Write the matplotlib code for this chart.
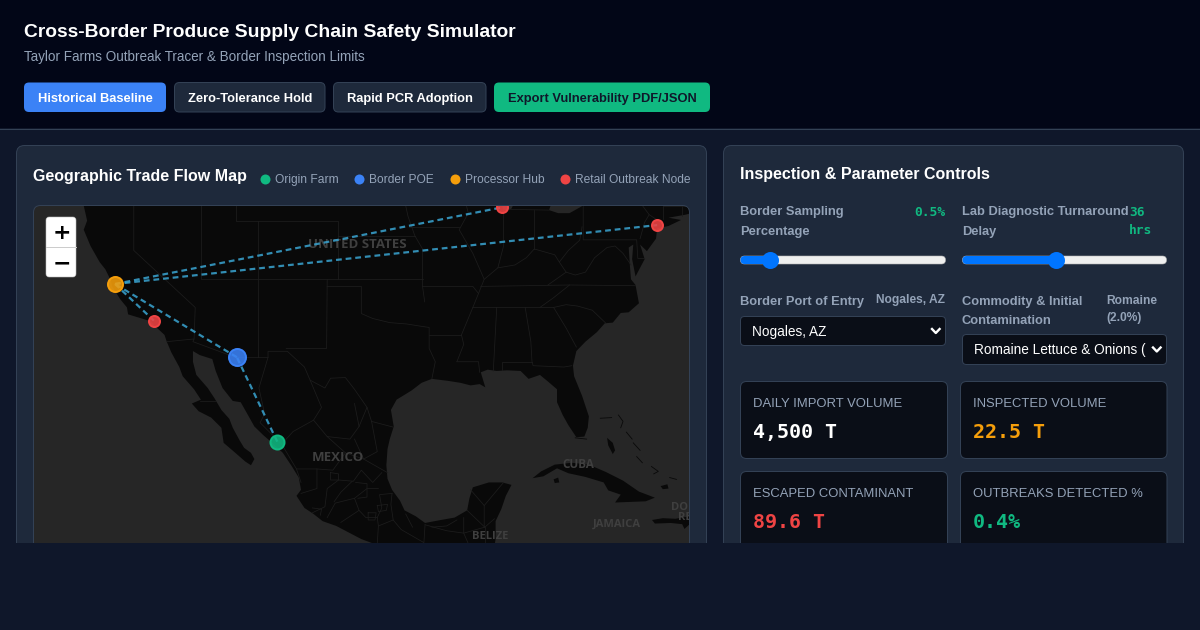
import numpy as np
import matplotlib
matplotlib.use("Agg")
import matplotlib.pyplot as plt
from matplotlib.patches import FancyBboxPatch, Polygon, Rectangle

# ---------- data ----------
node_names = ["Culiacan", "Nogales", "Salinas", "Los Angeles", "Chicago", "New York"]
node_lon = [-107.39, -110.94, -121.65, -118.24, -87.63, -74.0]
node_lat = [24.80, 31.34, 36.67, 34.05, 41.88, 40.71]
node_kind = ["farm", "poe", "hub", "retail", "retail", "retail"]
routes = [(0, 1), (1, 2), (2, 3), (2, 4), (2, 5)]
legend_labels = ["Origin Farm", "Border POE", "Processor Hub", "Retail Outbreak Node"]
sampling_pct = 0.5
sampling_range = (0.0, 4.3)
lab_delay_hrs = 36
lab_range = (6, 72)
metric_labels = ["DAILY IMPORT VOLUME", "INSPECTED VOLUME", "ESCAPED CONTAMINANT", "OUTBREAKS DETECTED %"]
metric_values = ["4,500 T", "22.5 T", "89.6 T", "0.4%"]
button_labels = ["Historical Baseline", "Zero-Tolerance Hold", "Rapid PCR Adoption", "Export Vulnerability PDF/JSON"]

mainland = [(-125,43),(-124.4,42),(-124.1,41),(-124.4,40.4),(-123.8,39.3),(-123,38.2),(-122.5,37.7),(-122,36.9),(-121.9,36.5),
 (-121.2,35.6),(-120.6,35.0),(-120.5,34.5),(-119.3,34.2),(-118.5,34.0),(-118.2,33.7),(-117.3,33.0),(-117.1,32.5),(-116.7,31.7),
 (-116.0,30.6),(-115.7,29.9),(-114.7,28.9),(-114.1,28.1),(-114.9,27.8),(-114.3,27.2),(-113.2,26.7),(-112.3,25.9),(-112.1,24.7),
 (-111.2,24.0),(-110.2,23.2),(-109.7,22.9),(-109.4,23.4),(-109.7,23.9),(-110.3,24.3),(-110.7,24.9),(-111.3,25.9),(-111.6,26.6),(-112.3,27.3),(-112.9,28.2),
 (-113.5,29.0),(-114.5,30.0),(-114.8,31.0),(-114.8,31.8),(-114.2,31.5),(-113.1,31.2),(-112.8,30.3),(-112.2,29.0),(-111.3,28.0),(-110.6,27.9),
 (-109.9,26.8),(-109.4,26.0),(-108.6,25.3),(-107.7,24.6),(-106.9,23.9),(-106.1,22.8),(-105.5,21.9),(-105.3,20.9),(-105.7,20.4),(-105.0,19.4),
 (-104.2,18.9),(-103.4,18.3),(-102.2,17.9),(-101.2,17.4),(-100.0,16.8),(-98.6,16.3),(-97.5,15.9),(-96,15.5),(-94,15),(-90,14.5),(-88.5,15),
 (-88.2,16.8),(-88.2,18.3),(-87.7,19.3),(-87.3,20.4),(-86.8,21.3),(-87.6,21.5),(-88.8,21.5),(-90.2,21.1),(-90.5,20.2),(-90.7,19.2),(-91.8,18.6),
 (-93.0,18.4),(-94.4,18.15),(-95.2,18.7),(-96.2,19.2),(-96.6,20.0),(-97.3,20.9),(-97.7,21.8),(-97.8,22.9),(-97.7,24.2),(-97.5,25.0),(-97.15,26.0),
 (-97.4,27.3),(-96.9,28.1),(-95.6,28.8),(-94.7,29.4),(-93.8,29.7),(-92.4,29.55),(-91.3,29.4),(-90.4,29.2),(-89.6,29.3),(-89.1,29.05),(-89.4,29.9),(-89.5,30.2),(-88.9,30.4),
 (-88.1,30.3),(-87.2,30.35),(-86.0,30.3),(-85.3,29.7),(-84.3,30.0),(-83.6,29.5),(-82.8,28.9),(-82.8,27.9),(-82.3,26.9),(-81.8,26.1),(-81.1,25.15),
 (-80.4,25.2),(-80.1,25.9),(-80.0,26.8),(-80.6,28.4),(-81.3,29.9),(-81.4,30.7),(-81.1,31.8),(-80.3,32.5),(-79.3,33.2),(-78.6,33.85),(-77.9,33.9),(-77.2,34.6),
 (-76.5,34.65),(-75.6,35.3),(-75.9,36.6),(-76.3,37.0),(-76.4,38.0),(-76.5,39.2),(-76.1,39.4),(-76.2,38.4),(-75.9,37.2),(-75.1,38.4),(-75.5,39.4),(-74.9,38.95),
 (-74.1,39.8),(-74.0,40.5),(-73.0,40.65),(-71.9,41.05),(-73.0,41.2),(-71.5,41.4),(-70.5,41.6),(-70,43)]
lake_erie = [(-83.5,41.7),(-82.7,41.5),(-81.7,41.5),(-80.5,42),(-79.5,42.5),(-78.9,42.9),(-80,43),(-82.9,43)]
lake_michigan = [(-87.8,42.6),(-87.55,41.75),(-87.2,41.65),(-86.8,41.8),(-86.3,42.6)]
islands = [
 [(-84.95,21.85),(-84.2,22.4),(-83.0,22.95),(-81.5,23.1),(-80.0,22.95),(-78.5,22.35),(-77.0,21.65),(-75.6,20.75),(-74.2,20.25),(-75.0,19.95),(-77.7,19.85),
  (-77.2,20.5),(-78.3,20.85),(-78.7,21.5),(-80.3,21.95),(-81.8,22.25),(-82.8,22.65),(-84.0,22.0)],
 [(-83.1,21.75),(-82.7,21.9),(-82.6,21.5),(-83.0,21.45)],
 [(-74.45,18.4),(-73.5,18.55),(-72.4,18.5),(-71.8,18.6),(-71.2,18.7),(-70,19.0),(-70,18.2),(-70.8,18.3),(-71.2,18.0),(-71.6,17.65),(-71.8,18.05),(-72.8,18.15),(-74.2,18.1)],
 [(-78.4,25.1),(-77.9,24.7),(-77.7,24.1),(-77.9,23.8),(-78.3,24.5)],
 [(-73.7,21.2),(-73.1,21.35),(-73.0,21.0),(-73.5,20.95)],
]
island_lines = [
 [(-79.0,26.65),(-78.0,26.7)],[(-77.4,26.9),(-77.0,26.4),(-77.2,25.9)],[(-76.7,25.55),(-76.2,25.0)],[(-75.8,23.6),(-75.3,23.1)],
 [(-76.1,24.7),(-75.5,24.1)],[(-74.5,22.8),(-73.9,22.4),(-74.3,22.2)],[(-72.9,21.9),(-72.3,21.75)],[(-81.2,25.1),(-80.2,25.0)],
]
borders = [
 [(-120,43),(-120,39),(-114.6,35),(-114.7,32.7)],[(-114.05,43),(-114.05,37),(-94.62,37)],
 [(-111.05,43),(-111.05,41),(-102.05,41),(-102.05,37)],[(-109.05,41),(-109.05,31.33)],
 [(-117.1,32.5),(-114.7,32.7),(-114.8,32.5),(-111.07,31.33),(-108.2,31.33),(-108.2,31.78),(-106.5,31.78),(-105,30.6),(-104.5,29.6),(-103.2,29),(-102.7,29.75),(-101.4,29.8),(-100.6,28.9),(-99.5,27.5),(-99.1,26.4),(-97.2,25.95)],
 [(-103,37),(-103.05,32),(-106.6,32)],[(-103,36.5),(-100,36.5),(-100,34.56),(-99,34.2),(-97.5,33.9),(-96,33.8),(-94.5,33.6)],
 [(-94.43,35.4),(-94.62,36.5),(-94.62,39.1),(-95.3,40),(-95.9,41.3),(-96.4,43)],[(-102.05,40),(-95.3,40)],[(-95.8,40.6),(-91.4,40.6)],
 [(-94.62,36.5),(-90.2,36.5),(-89.7,36)],[(-94.5,33.6),(-94.04,33.55),(-94.04,32),(-93.5,31),(-93.8,29.7)],[(-94.04,33),(-91.2,33)],[(-91.6,31),(-89.7,31),(-89.6,30.2)],
 [(-91.1,43),(-90.6,41.5),(-91.4,40.4),(-90.2,38.8),(-89.2,37),(-89.7,36),(-90.2,35),(-91.2,33),(-91,32.3),(-91.6,31)],
 [(-88.1,35),(-88.4,30.3)],[(-85.6,35),(-85.1,32.5),(-85,31),(-84.9,30.7),(-82.2,30.6),(-81.5,30.7)],[(-87.6,30.35),(-87.6,31),(-85,31)],
 [(-90.2,35),(-84.3,35),(-83.1,35.7),(-81.7,36.6)],[(-89.5,36.5),(-81.7,36.6),(-75.9,36.55)],[(-84.3,35),(-83.1,35),(-82,35.2),(-81,35.1),(-79.7,34.8),(-78.5,33.85)],
 [(-83.1,35),(-82,33.5),(-81.1,32.1)],[(-89.2,37),(-88,37.8),(-86.5,38),(-85.5,38.5),(-84.8,39.1),(-83,38.7),(-82.6,38.2),(-82,37.5),(-83.6,36.6)],
 [(-87.5,41.7),(-87.5,39.3),(-88,37.8)],[(-84.8,39.1),(-84.8,41.7)],[(-87,41.75),(-83.5,41.7)],[(-80.5,42),(-80.5,39.72),(-75.8,39.72),(-75.7,38.45),(-75.1,38.45)],
 [(-80.6,40.6),(-80.8,39.7),(-81.8,39),(-82.6,38.2)],[(-82,37.5),(-81.2,37.3),(-80.3,37.5),(-79.5,38.5),(-78.4,39.2),(-77.7,39.3),(-77,38.8),(-76.3,38)],
 [(-79.8,43),(-79.8,42.2),(-75.3,42),(-74.7,41.4),(-75.1,40.9),(-75.5,39.8)],[(-74.7,41.4),(-73.9,41)],[(-73.5,43),(-73.5,41.1)],[(-73.5,42),(-71.4,42)],[(-71.8,42),(-71.8,41.3)],
 [(-114.2,28),(-112.8,28)],[(-108.2,31.33),(-109,29),(-108.5,27),(-108.9,26.3),(-107,24.6),(-105.7,22.6),(-105.3,21.5)],[(-104.5,29.6),(-103.5,27.5),(-104.2,26.5),(-106,25.6),(-107,24.6)],
 [(-104.2,26.5),(-103,25.2),(-101,25),(-100.2,26),(-100.6,27.8)],[(-99.5,27.5),(-100.2,26)],[(-99.1,26.4),(-98.6,24),(-99.8,23.4),(-100.6,25)],[(-97.7,22.3),(-99.8,23.4),(-101.4,23.9),(-103,25.2)],
 [(-105.7,22.6),(-103.9,22.6),(-102.5,22.5),(-101.4,23.9)],[(-105.3,20.6),(-103.9,21),(-103.9,22.6)],[(-104.3,19),(-103.2,19.5),(-103,21),(-102,21.7),(-100.7,21.6),(-100,22.5),(-99,21.5),(-98.2,22.3)],
 [(-103,18.6),(-102.3,19.8),(-100.6,20.2),(-100.2,19.2),(-101.8,18.2)],[(-100.6,20.2),(-99.5,21),(-98.5,21)],[(-100.2,19.2),(-99.6,18.6),(-98.6,18.6),(-98.2,19.4),(-98.4,20.5),(-97.3,20.6)],
 [(-98.6,18.6),(-98.5,17.9),(-98.6,16.4)],[(-98.5,17.9),(-97.2,18.4),(-96.5,17.6),(-94.5,16.5),(-94.4,18)],[(-97.2,18.4),(-97.4,19.7),(-97.3,20.6)],[(-94.4,18),(-92.5,17.5),(-91,17.3),(-91,18.6)],[(-94.4,16.4),(-93,15.5)],
 [(-92.2,14.6),(-91.5,16),(-90.5,16.2),(-91,17.3),(-89.15,17.8),(-88.3,18.5)],[(-89.15,15.8),(-89.15,17.8)],[(-90.7,19.2),(-89.15,17.8)],[(-89.2,17.8),(-89.2,19.6),(-90.4,20.9)],[(-89.2,19.6),(-87.5,21.5)],
 [(-102.7,22.3),(-102,22.2),(-102,21.7),(-102.7,21.7),(-102.7,22.3)],[(-98.6,19.6),(-97.7,19.7),(-97.8,19.2),(-98.5,19.1),(-98.6,19.6)],[(-99.4,19),(-98.7,19),(-98.8,18.4),(-99.4,18.4),(-99.4,19)],
 [(-100.5,21.5),(-99.5,21.4),(-99.5,20.3),(-100.3,20.2)],[(-104.3,19.4),(-103.5,19.3),(-103.6,18.8)],[(-91.6,18.4),(-92.5,17.9),(-93.8,17.8)],[(-96.1,18.9),(-95.5,17.8)],[(-100.8,21.6),(-101.8,20.7),(-102.4,19.9)],
]
map_labels = [("UNITED STATES",-100.35,39.4,9.5),("MEXICO",-102.05,23.5,9.5),("CUBA",-80.9,22.95,8.5),("JAMAICA",-77.55,18.05,8),("BELIZE",-88.7,17.0,8),("DOM",-71.6,19.4,8),("REP",-71.3,18.6,8)]

# ---------- style ----------
PAGE, HEAD, PANEL, EDGE = "#0f172a", "#020617", "#1e293b", "#334155"
MUTED, CARD = "#94a3b8", "#0a0e17"
GREEN, BLUE, AMBER, RED = "#10b981", "#3b82f6", "#f59e0b", "#ef4444"
kind_color = {"farm": GREEN, "poe": BLUE, "hub": AMBER, "retail": RED}
kind_size = {"farm": 7.0, "poe": 8.5, "hub": 7.5, "retail": 5.5}
SANS, MONO = "Liberation Sans", "DejaVu Sans Mono"
LW = 0.72

fig = plt.figure(figsize=(12, 6.3), dpi=100, facecolor=PAGE)
ui = fig.add_axes([0, 0, 1, 1], zorder=1)
ui.set_xlim(0, 1200); ui.set_ylim(630, 0); ui.axis("off")

def box(x, y, w, h, fc, ec="none", r=4, lw=LW, z=2, ax=ui):
    p = FancyBboxPatch((x, y), w, h, boxstyle=f"round,pad=0,rounding_size={r}", fc=fc, ec=ec, lw=lw, zorder=z)
    ax.add_patch(p); return p
def px(v):
    return v * 0.72
def label(x, y, s, size, color="white", weight="normal", family=SANS, ha="left", z=5, **kw):
    return ui.text(x, y + 2, s, fontsize=px(size), color=color, fontweight=weight, family=family, ha=ha, va="center", zorder=z, **kw)

# header
ui.add_patch(Rectangle((0, 0), 1200, 128, fc=HEAD, ec="none", zorder=1))
ui.plot([0, 1200], [128.5, 128.5], color=EDGE, lw=LW, zorder=2)
label(24, 30.5, "Cross-Border Produce Supply Chain Safety Simulator", 19.3, weight="bold")
label(24, 54.8, "Taylor Farms Outbreak Tracer & Border Inspection Limits", 13.55, color=MUTED)
btn_x = [(24, 142, BLUE, "none", "white"), (174.5, 150.5, PANEL, EDGE, "white"), (333.5, 152.5, PANEL, EDGE, "white"), (494, 216, GREEN, "none", PAGE)]
for (x, w, fc, ec, tc), s in zip(btn_x, button_labels):
    box(x, 82.5, w, 29.5, fc, ec, r=5)
    label(x + w / 2, 96.6, s, 12.9, color=tc, weight="bold", ha="center")

# panels
box(16.5, 145.5, 690, 440, PANEL, EDGE, r=8)
box(723.5, 145.5, 460, 440, PANEL, EDGE, r=8)

# left panel header + legend
label(33, 174, "Geographic Trade Flow Map", 16, weight="bold")
legend_x = [265, 359, 455, 565]
for x, s, c in zip(legend_x, legend_labels, [GREEN, BLUE, AMBER, RED]):
    ui.scatter([x], [179], s=52, color=c, zorder=5, linewidths=0)
    label(x + 10, 178.3, s, 12, color=MUTED)

# ---------- map ----------
scale_pp_deg = 256 * 16 / 360
def merc(lat):
    return np.degrees(np.log(np.tan(np.pi / 4 + np.radians(np.asarray(lat, float)) / 2)))
def merc_inv(m):
    return np.degrees(2 * np.arctan(np.exp(np.radians(np.asarray(m, float)))) - np.pi / 2)

MX0, MX1, MY0, MY1 = 34, 689, 206, 543
mp = fig.add_axes([MX0 / 1200, 1 - MY1 / 630, (MX1 - MX0) / 1200, (MY1 - MY0) / 630], zorder=2, facecolor="#262626")
mp.set_yscale("function", functions=(merc, merc_inv))
a_lon, a_lat, a_x, a_y = node_lon[2], node_lat[2], 115, 284
mp.set_xlim(a_lon + (MX0 - a_x) / scale_pp_deg, a_lon + (MX1 - a_x) / scale_pp_deg)
mp.set_ylim(merc_inv(merc(a_lat) - (MY1 - a_y) / scale_pp_deg), merc_inv(merc(a_lat) + (a_y - MY0) / scale_pp_deg))
mp.set_xticks([]); mp.set_yticks([])
mp.yaxis.set_major_locator(matplotlib.ticker.NullLocator()); mp.yaxis.set_minor_locator(matplotlib.ticker.NullLocator())
for s in mp.spines.values():
    s.set_visible(False)
LAND, WATER = "#090909", "#262626"
mp.add_patch(Polygon(mainland, fc=LAND, ec="none", zorder=1))
for lake in (lake_erie, lake_michigan):
    mp.add_patch(Polygon(lake, fc=WATER, ec="none", zorder=1.5))
for isl in islands:
    mp.add_patch(Polygon(isl, fc=LAND, ec="none", zorder=1))
for il in island_lines:
    mp.plot(*zip(*il), color=LAND, lw=0.6, zorder=1)
for b in borders:
    mp.plot(*zip(*b), color="#1d1d1d", lw=0.55, zorder=2)
for s, lon, lat, size in map_labels:
    mp.text(lon, lat, s, fontsize=size, color="#3f3f3f", fontweight="bold", family="Open Sans", ha="center", va="center", zorder=3, clip_on=True)
for i, j in routes:
    mp.plot([node_lon[i], node_lon[j]], [node_lat[i], node_lat[j]], color="#38a0cc", lw=1.6, dashes=(2.6, 1.75), alpha=0.88, zorder=4)
for lon, lat, k in zip(node_lon, node_lat, node_kind):
    c = kind_color[k]
    mp.plot([lon], [lat], "o", ms=kind_size[k] * 2 * 0.72, mfc=matplotlib.colors.to_rgba(c, 0.88), mec=c, mew=1.44, zorder=5)

# top layer: map frame, zoom control, viewport cut
top = fig.add_axes([0, 0, 1, 1], zorder=3)
top.set_xlim(0, 1200); top.set_ylim(630, 0); top.axis("off"); top.patch.set_alpha(0)
for (cx, sx) in ((33.5, 1), (689.5, -1)):
    top.add_patch(Polygon([(cx, 205.5), (cx + sx * 5, 205.5), (cx + sx * 2, 206.5), (cx + sx, 207.5), (cx, 210)], fc=PANEL, ec="none", zorder=2.5))
box(33.5, 205.5, 656, 400, "none", EDGE, r=7, z=3, ax=top)
box(46, 217, 30, 60, "white", "#bbbbbb", r=3, lw=0.4, z=4, ax=top)
top.plot([46, 76], [246.5, 246.5], color="#cccccc", lw=0.72, zorder=5)
top.text(61.5, 233, "+", fontsize=px(22), fontweight="bold", family="DejaVu Sans", ha="center", va="center", color="black", zorder=6)
top.text(61.5, 263, "\u2212", fontsize=px(22), fontweight="bold", family="DejaVu Sans", ha="center", va="center", color="black", zorder=6)
top.add_patch(Rectangle((0, 543), 1200, 87, fc=PAGE, ec="none", zorder=10))

# ---------- controls ----------
label(740, 172, "Inspection & Parameter Controls", 16, weight="bold")
label(740, 210.5, "Border Sampling", 12.9, color=MUTED, weight="bold")
label(740, 229.5, "Percentage", 12.9, color=MUTED, weight="bold")
label(945.5, 210, f"{sampling_pct}%", 12.9, color=GREEN, weight="bold", family=MONO, ha="right")
label(962, 210.5, "Lab Diagnostic Turnaround", 12.9, color=MUTED, weight="bold")
label(962, 229.5, "Delay", 12.9, color=MUTED, weight="bold")
label(1129, 210, f"{lab_delay_hrs}", 12.9, color=GREEN, weight="bold", family=MONO)
label(1129, 229, "hrs", 12.9, color=GREEN, weight="bold", family=MONO)

def slider(x0, x1, value, rng):
    frac = (value - rng[0]) / (rng[1] - rng[0])
    tx = x0 + 8 + (x1 - x0 - 16) * frac
    box(x0 + .5, 256, x1 - x0 - 1, 8, "#efefef", "#b5b5b5", r=4, lw=0.4)
    box(x0 + .5, 256, tx - x0, 8, "#0075ff", r=4, z=3)
    ui.scatter([tx], [260], s=150, color="#0075ff", zorder=4, linewidths=0)
slider(740, 946, sampling_pct, sampling_range)
slider(962, 1167, lab_delay_hrs, lab_range)

label(740, 299.5, "Border Port of Entry", 12.9, color=MUTED, weight="bold")
label(945.5, 298.5, "Nogales, AZ", 12, color=MUTED, weight="bold", ha="right")
label(962, 299.5, "Commodity & Initial", 12.9, color=MUTED, weight="bold")
label(962, 319.5, "Contamination", 12.9, color=MUTED, weight="bold")
label(1106, 298.5, "Romaine", 12, color=MUTED, weight="bold")
label(1106, 316.5, "(2.0%)", 12, color=MUTED, weight="bold")

def select(x, y, w, h, s):
    box(x + .5, y + .5, w - 1, h - 1, CARD, EDGE, r=4)
    label(x + 11.5, y + h / 2 - 1.2, s, 13.6, color="white")
    ui.plot([x + w - 14, x + w - 10.2, x + w - 6.4], [y + h / 2 - 2, y + h / 2 + 2, y + h / 2 - 2], color="white", lw=1.7, zorder=5)
select(740, 316, 206, 30, "Nogales, AZ")
select(962, 334, 205, 31, "Romaine Lettuce & Onions (")

card_pos = [(740.5, 381.5, 207), (960.5, 381.5, 206.5), (740.5, 471.5, 207), (960.5, 471.5, 206.5)]
val_colors = ["white", AMBER, RED, GREEN]
for (x, y, w), lab, val, c in zip(card_pos, metric_labels, metric_values, val_colors):
    box(x, y, w, 77 if y < 400 else 120, CARD, EDGE, r=6)
    label(x + 12.5, y + 20.8, lab, 13, color=MUTED)
    label(x + 12.5, y + 48.7, val, 20, color=c, weight="bold", family=MONO)
ui.add_patch(Rectangle((0, 543), 1200, 87, fc=PAGE, ec="none", zorder=20))

fig.savefig("out.png", dpi=100, facecolor=PAGE)
